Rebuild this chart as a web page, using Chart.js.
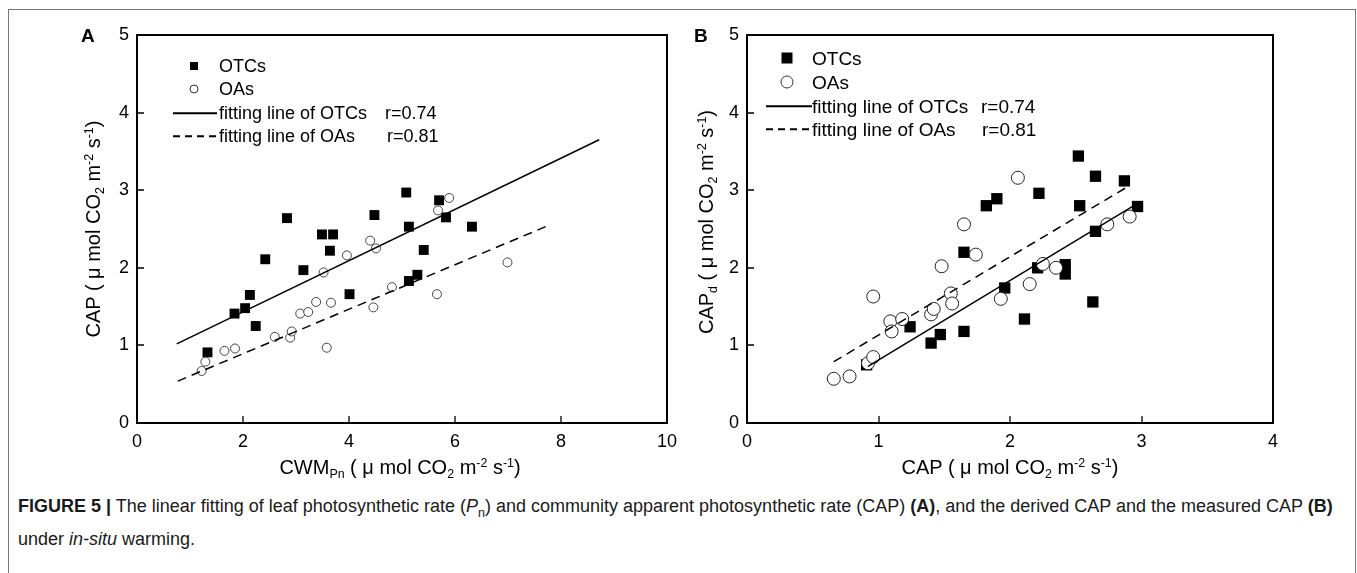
<!DOCTYPE html>
<html lang="en">
<head>
<meta charset="UTF-8">
<script src="https://cdn.jsdelivr.net/npm/chart.js"></script>
<title>Figure 5</title>
<style>
  body { margin: 0; background: #fff; font-family: "Liberation Sans", Arial, sans-serif; }
  .page { position: relative; width: 1357px; height: 573px; overflow: hidden; }
  .frame { position: absolute; left: 8px; top: 9px; width: 1346px; height: 620px; border: 1px solid #777; }
  canvas { position: absolute; top: 0; }
  #chartA { left: 0; }
  #chartB { left: 680px; }
  .txt { position: absolute; color: #000; white-space: nowrap; line-height: 1; }
  .panel { font-weight: bold; font-size: 19px; transform: translateY(-50%); }
  .ytitle { font-size: 20px; transform: translate(-50%, -50%) rotate(-90deg); }
  .xtitle { font-size: 20px; transform: translate(-50%, -50%); }
  .ytitle sub, .xtitle sub, .ytitle sup, .xtitle sup { font-size: 0.62em; line-height: 0; }
  .ytitle sub, .xtitle sub { vertical-align: -0.35em; }
  .ytitle sup, .xtitle sup { vertical-align: 0.6em; }
  .leg { transform: translateY(-50%); }
  .legA { font-size: 18px; }
  .legB { font-size: 19px; }
  .sq { position: absolute; background: #000; transform: translate(-50%, -50%); }
  .ci { position: absolute; border: 1px solid #333; border-radius: 50%; background: #fff; transform: translate(-50%, -50%); }
  .ln { position: absolute; height: 2px; background: #000; transform: translateY(-50%); }
  .dash { position: absolute; height: 2px; transform: translateY(-50%);
          background: repeating-linear-gradient(to right, #000 0 7px, transparent 7px 12px); }
  .cap { font-size: 18px; color: #1a1a1a; transform: translateY(-50%); }
  .cap sub { font-size: 0.7em; line-height: 0; }
</style>
</head>

<body>
<div class="page">
  <div class="frame"></div>
  <canvas id="chartA" width="700" height="460"></canvas>
  <canvas id="chartB" width="677" height="460"></canvas>

  <!-- panel A texts -->
  <div class="txt panel" style="left:81px; top:35px;">A</div>
  <div class="txt ytitle" style="left:93px; top:229px;">CAP ( &mu; mol CO<sub>2</sub> m<sup>-2</sup> s<sup>-1</sup>)</div>
  <div class="txt xtitle" style="left:400px; top:467px;">CWM<sub>Pn</sub> ( &mu; mol CO<sub>2</sub> m<sup>-2</sup> s<sup>-1</sup>)</div>

  <div class="sq" style="left:194px; top:66px; width:8px; height:8px;"></div>
  <div class="ci" style="left:194px; top:89px; width:7px; height:7px;"></div>
  <div class="ln" style="left:173px; top:113px; width:44px; height:1.5px;"></div>
  <div class="dash" style="left:173px; top:136px; width:44px; height:1.5px;"></div>
  <div class="txt leg legA" style="left:219px; top:66px;">OTCs</div>
  <div class="txt leg legA" style="left:219px; top:89px;">OAs</div>
  <div class="txt leg legA" style="left:219px; top:113px;">fitting line of OTCs</div>
  <div class="txt leg legA" style="left:385px; top:113px;">r=0.74</div>
  <div class="txt leg legA" style="left:219px; top:136px;">fitting line of OAs</div>
  <div class="txt leg legA" style="left:387px; top:136px;">r=0.81</div>

  <!-- panel B texts -->
  <div class="txt panel" style="left:694px; top:35px;">B</div>
  <div class="txt ytitle" style="left:706px; top:222px;">CAP<sub>d</sub> ( &mu; mol CO<sub>2</sub> m<sup>-2</sup> s<sup>-1</sup>)</div>
  <div class="txt xtitle" style="left:1010px; top:467px;">CAP ( &mu; mol CO<sub>2</sub> m<sup>-2</sup> s<sup>-1</sup>)</div>

  <div class="sq" style="left:787px; top:58px; width:11px; height:11px;"></div>
  <div class="ci" style="left:787px; top:82px; width:11px; height:11px;"></div>
  <div class="ln" style="left:766px; top:106px; width:46px; height:1.5px;"></div>
  <div class="dash" style="left:766px; top:129px; width:46px; height:1.5px;"></div>
  <div class="txt leg legB" style="left:812px; top:58px;">OTCs</div>
  <div class="txt leg legB" style="left:812px; top:82px;">OAs</div>
  <div class="txt leg legB" style="left:812px; top:106px;">fitting line of OTCs</div>
  <div class="txt leg legB" style="left:981px; top:106px;">r=0.74</div>
  <div class="txt leg legB" style="left:812px; top:129px;">fitting line of OAs</div>
  <div class="txt leg legB" style="left:982px; top:129px;">r=0.81</div>

  <!-- caption -->
  <div class="txt cap" style="left:18px; top:506px;"><b>FIGURE 5 |</b> The linear fitting of leaf photosynthetic rate (<i>P</i><sub>n</sub>) and community apparent photosynthetic rate (CAP) <b>(A)</b>, and the derived CAP and the measured CAP <b>(B)</b></div>
  <div class="txt cap" style="left:18px; top:539px;">under <i>in-situ</i> warming.</div>
</div>

<script>
    // panel A : CWM_Pn vs CAP
    const otcA_x = [1.33, 1.84, 2.04, 2.13, 2.24, 2.42, 2.83, 3.14, 3.49, 3.64, 3.70, 4.01, 4.48, 5.08, 5.13, 5.13, 5.29, 5.41, 5.70, 5.83, 6.32];
    const otcA_y = [0.91, 1.41, 1.48, 1.65, 1.25, 2.11, 2.64, 1.97, 2.43, 2.22, 2.43, 1.66, 2.68, 2.97, 2.53, 1.83, 1.91, 2.23, 2.87, 2.65, 2.53];
    const oaA_x = [1.22, 1.29, 1.65, 1.85, 2.60, 2.89, 2.92, 3.08, 3.23, 3.38, 3.52, 3.58, 3.66, 3.96, 4.40, 4.46, 4.51, 4.81, 5.66, 5.68, 5.89, 6.99];
    const oaA_y = [0.67, 0.79, 0.93, 0.96, 1.11, 1.10, 1.18, 1.41, 1.43, 1.56, 1.94, 0.97, 1.55, 2.16, 2.35, 1.49, 2.25, 1.75, 1.66, 2.74, 2.90, 2.07];
    const fitOtcA_x = [0.75, 8.72];
    const fitOtcA_y = [1.02, 3.65];
    const fitOaA_x = [0.77, 7.71];
    const fitOaA_y = [0.54, 2.53];

    // panel B : CAP vs CAP_d
    const otcB_x = [0.91, 1.24, 1.40, 1.47, 1.65, 1.65, 1.82, 1.90, 1.96, 2.11, 2.21, 2.22, 2.42, 2.42, 2.52, 2.53, 2.63, 2.65, 2.65, 2.87, 2.97];
    const otcB_y = [0.75, 1.24, 1.03, 1.14, 1.18, 2.20, 2.80, 2.89, 1.74, 1.34, 2.00, 2.96, 2.04, 1.92, 3.44, 2.80, 1.56, 3.18, 2.47, 3.12, 2.79];
    const oaB_x = [0.66, 0.78, 0.92, 0.96, 0.96, 1.09, 1.10, 1.18, 1.40, 1.42, 1.48, 1.55, 1.56, 1.65, 1.74, 1.93, 2.06, 2.15, 2.25, 2.35, 2.74, 2.91];
    const oaB_y = [0.57, 0.60, 0.77, 0.85, 1.63, 1.31, 1.18, 1.34, 1.40, 1.47, 2.02, 1.67, 1.54, 2.56, 2.17, 1.60, 3.16, 1.79, 2.05, 2.00, 2.56, 2.66];
    const fitOtcB_x = [0.92, 2.97];
    const fitOtcB_y = [0.73, 2.83];
    const fitOaB_x = [0.66, 2.89];
    const fitOaB_y = [0.79, 3.04];

    // axis ranges / ticks
    const xTicksA = [0, 2, 4, 6, 8, 10];
    const xTicksB = [0, 1, 2, 3, 4];
    const yTicks = [0, 1, 2, 3, 4, 5];

    function toPoints(xs, ys) {
        return xs.map((x, i) => ({ x: x, y: ys[i] }));
    }

    // box around the plot and short ticks pointing inwards
    const boxPlugin = {
        id: 'box',
        afterDraw(chart) {
            const ctx = chart.ctx;
            const a = chart.chartArea;
            const xs = chart.scales.x;
            const ys = chart.scales.y;
            ctx.save();
            ctx.strokeStyle = '#000';
            ctx.lineWidth = 1.3;
            ctx.beginPath();
            xs.ticks.forEach(t => {
                const px = Math.round(xs.getPixelForValue(t.value));
                if (px > a.left + 2 && px < a.right - 2) {
                    ctx.moveTo(px, a.bottom);
                    ctx.lineTo(px, a.bottom - 7);
                }
            });
            ys.ticks.forEach(t => {
                const py = Math.round(ys.getPixelForValue(t.value));
                if (py > a.top + 2 && py < a.bottom - 2) {
                    ctx.moveTo(a.left, py);
                    ctx.lineTo(a.left + 7, py);
                }
            });
            ctx.stroke();
            ctx.lineWidth = 2;
            ctx.strokeRect(a.left, a.top, a.right - a.left, a.bottom - a.top);
            ctx.restore();
        }
    };

    function makeChart(id, cfg) {
        const ctx = document.getElementById(id);
        return new Chart(ctx, {
            type: 'scatter',
            data: {
                datasets: [
                    {
                        type: 'line',
                        data: toPoints(cfg.fitOtcX, cfg.fitOtcY),
                        borderColor: '#000',
                        borderWidth: 1.5,
                        pointRadius: 0,
                        fill: false
                    },
                    {
                        type: 'line',
                        data: toPoints(cfg.fitOaX, cfg.fitOaY),
                        borderColor: '#000',
                        borderWidth: 1.5,
                        borderDash: [9, 6],
                        pointRadius: 0,
                        fill: false
                    },
                    {
                        data: toPoints(cfg.oaX, cfg.oaY),
                        pointStyle: 'circle',
                        pointRadius: cfg.circleR,
                        backgroundColor: '#fff',
                        borderColor: cfg.circleColor,
                        borderWidth: 1
                    },
                    {
                        data: toPoints(cfg.otcX, cfg.otcY),
                        pointStyle: 'rect',
                        pointRadius: cfg.rectR,
                        backgroundColor: '#000',
                        borderColor: '#000',
                        borderWidth: 0
                    }
                ]
            },
            options: {
                responsive: false,
                animation: false,
                layout: { padding: cfg.padding },
                scales: {
                    x: {
                        type: 'linear',
                        min: cfg.xTicks[0],
                        max: cfg.xTicks[cfg.xTicks.length - 1],
                        afterBuildTicks: s => { s.ticks = cfg.xTicks.map(v => ({ value: v })); },
                        afterFit: s => { s.height = 30; },
                        grid: { display: false, drawTicks: false },
                        border: { display: false },
                        ticks: { color: '#000', padding: 8, maxRotation: 0, font: { family: 'Liberation Sans', size: 18 } }
                    },
                    y: {
                        type: 'linear',
                        min: 0,
                        max: 5,
                        afterBuildTicks: s => { s.ticks = yTicks.map(v => ({ value: v })); },
                        afterFit: s => { s.width = 40; },
                        grid: { display: false, drawTicks: false },
                        border: { display: false },
                        ticks: { color: '#000', padding: 8, font: { family: 'Liberation Sans', size: 18 } }
                    }
                },
                plugins: {
                    legend: { display: false },
                    tooltip: { enabled: false }
                }
            },
            plugins: [boxPlugin]
        });
    }

    const chartA = makeChart('chartA', {
        otcX: otcA_x, otcY: otcA_y, oaX: oaA_x, oaY: oaA_y,
        fitOtcX: fitOtcA_x, fitOtcY: fitOtcA_y, fitOaX: fitOaA_x, fitOaY: fitOaA_y,
        xTicks: xTicksA, rectR: 7, circleR: 4.5, circleColor: '#444',
        padding: { left: 97, right: 33, top: 35, bottom: 7 }
    });

    const chartB = makeChart('chartB', {
        otcX: otcB_x, otcY: otcB_y, oaX: oaB_x, oaY: oaB_y,
        fitOtcX: fitOtcB_x, fitOtcY: fitOtcB_y, fitOaX: fitOaB_x, fitOaY: fitOaB_y,
        xTicks: xTicksB, rectR: 8, circleR: 6.5, circleColor: '#222',
        padding: { left: 27, right: 84, top: 35, bottom: 7 }
    });
</script>
</body>
</html>
